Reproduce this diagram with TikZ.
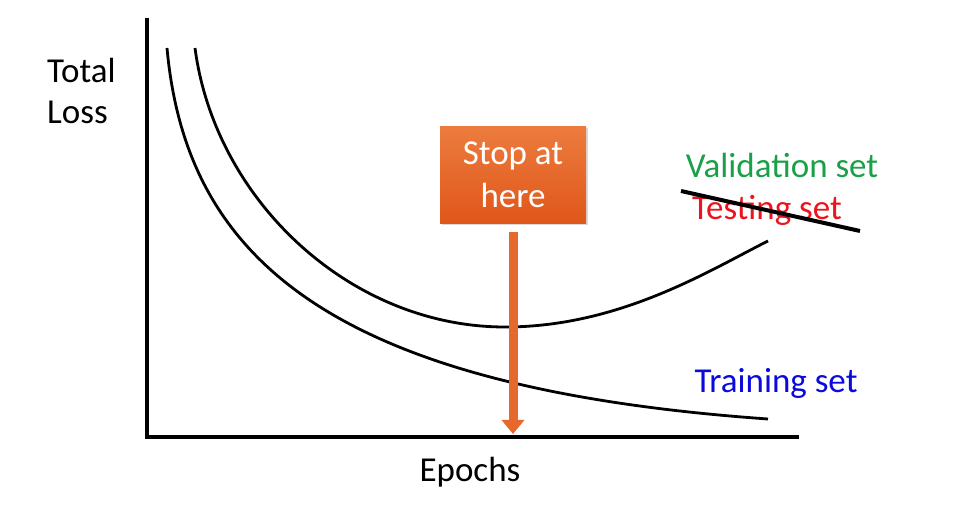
\documentclass[tikz,border=0pt]{standalone}
\usepackage{fontspec}
\setmainfont{Carlito}
\usetikzlibrary{arrows.meta,shadows}
\definecolor{valgreen}{RGB}{26,160,72}
\definecolor{testred}{RGB}{235,20,30}
\definecolor{trainblue}{RGB}{10,10,220}
\definecolor{orangetop}{RGB}{236,124,62}
\definecolor{orangebot}{RGB}{224,86,26}
\definecolor{orangemid}{RGB}{230,104,44}
\tikzset{
  axis/.style={line width=4pt, line cap=rect},
  curve/.style={line width=2.8pt},
  lbl/.style={font=\fontsize{35pt}{40pt}\selectfont, inner sep=0pt},
  stopbox/.style={top color=orangetop, bottom color=orangebot, draw=none,
    minimum width=146pt, minimum height=97pt, align=center, text=white,
    font=\fontsize{35pt}{43pt}\selectfont, drop shadow={opacity=0.3, shadow xshift=1.5pt, shadow yshift=-1.5pt}},
  stoparrow/.style={draw=orangemid, line width=9pt, -{Triangle[width=22pt,length=14pt]}}
}
\begin{document}
\begin{tikzpicture}[x=1pt,y=-1pt]
\useasboundingbox (0,0) rectangle (970,526);
% axes
\coordinate (top) at (147,20);
\coordinate (origin) at (147,437);
\coordinate (right) at (797,437);
\draw[axis] (top) -- (origin) -- (right);
% training curve
\coordinate (t0) at (167,48);
\coordinate (t1) at (768,419);
\draw[curve] (t0) .. controls (186,258) and (330,388) .. (t1);
% validation curve
\coordinate (v0) at (195,48);
\coordinate (vm) at (505,327);
\coordinate (v1) at (768,241);
\draw[curve] (v0) .. controls (215,200) and (350,327) .. (vm)
  .. controls (620,327) and (710,270) .. (v1);
% labels
\node[lbl, anchor=west] (total) at (47,70) {Total};
\node[lbl, anchor=west] (loss) at (47,112) {Loss};
\node[lbl] (epochs) at (470,472) {Epochs};
\node[lbl, text=valgreen] (val) at (782,165) {Validation set};
\node[lbl, text=testred] (test) at (767,210) {Testing set};
\coordinate (s1) at (681,191);
\coordinate (s2) at (860,231);
\draw[line width=4pt] (s1) -- (s2);
\node[lbl, text=trainblue] (train) at (776,383) {Training set};
% stop box + arrow
\node[stopbox] (stop) at (513,175) {Stop at\\here};
\coordinate (ashaft) at (513,232);
\coordinate (atip) at (513,434);
\draw[stoparrow] (ashaft) -- (atip);
\end{tikzpicture}
\end{document}
